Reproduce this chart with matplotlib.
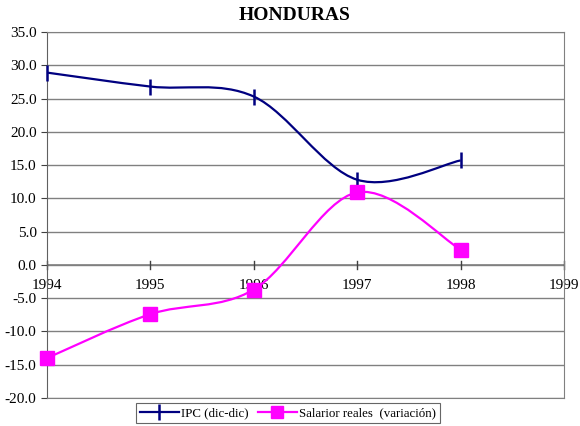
import matplotlib
matplotlib.use("Agg")
import matplotlib.pyplot as plt
from matplotlib.path import Path
from matplotlib.patches import PathPatch
from matplotlib.lines import Line2D
import numpy as np

years = [1994, 1995, 1996, 1997, 1998]
ipc = [28.9, 26.8, 25.3, 12.8, 15.7]
salarios = [-14.0, -7.4, -3.7, 10.9, 2.3]
xticks = [1994, 1995, 1996, 1997, 1998, 1999]
yticks = [-20, -15, -10, -5, 0, 5, 10, 15, 20, 25, 30, 35]

plt.rcParams['font.family'] = ['Liberation Serif', 'DejaVu Serif']

fig = plt.figure(figsize=(5.8, 4.26), dpi=100)
ax = fig.add_axes([0.081, 0.0657, 0.8914, 0.8592])


def smooth_path(xs, ys):
    pts = np.column_stack([xs, ys]).astype(float)
    n = len(pts)
    verts = [pts[0]]
    codes = [Path.MOVETO]
    for i in range(n - 1):
        p0 = pts[i - 1] if i > 0 else pts[i]
        p1 = pts[i]
        p2 = pts[i + 1]
        p3 = pts[i + 2] if i + 2 < n else pts[i + 1]
        c1 = p1 + (p2 - p0) / 6.0
        c2 = p2 - (p3 - p1) / 6.0
        verts += [c1, c2, p2]
        codes += [Path.CURVE4] * 3
    return Path(verts, codes)


navy = '#000080'
mag = '#FF00FF'

for ys, col in [(ipc, navy), (salarios, mag)]:
    patch = PathPatch(smooth_path(years, ys), facecolor='none', edgecolor=col,
                      lw=1.6, zorder=3)
    ax.add_patch(patch)

ax.plot(years, ipc, linestyle='none', marker='|', markersize=11,
        markeredgewidth=1.8, color=navy, zorder=4, clip_on=False)
ax.plot(years, salarios, linestyle='none', marker='s', markersize=10,
        color=mag, zorder=4, clip_on=False)

ax.set_xlim(1994, 1999)
ax.set_ylim(-20, 35)
ax.set_yticks(yticks)
ax.set_yticklabels([f"{v:.1f}" for v in yticks], fontsize=11)
ax.yaxis.grid(True, color='#808080', lw=1.0)
ax.set_axisbelow(True)

ax.spines['bottom'].set_color('#808080')
ax.spines['top'].set_color('#808080')
ax.spines['right'].set_color('#808080')
ax.spines['left'].set_color('#606060')
ax.axhline(0, color='#808080', lw=1.2, zorder=2)
ax.set_xticks([])
for x in xticks:
    ax.plot([x, x], [-0.6, 0.6], color='#404040', lw=1.0, zorder=2, clip_on=False)
    ax.text(x, -3.1, str(x), ha='center', va='center', fontsize=11, zorder=1)

ax.tick_params(axis='y', length=4, color='#404040')

fig.text(0.508, 0.963, 'HONDURAS', ha='center', va='center', fontsize=14,
         fontweight='bold')

handles = [
    Line2D([], [], color=navy, lw=1.6, marker='|', markersize=11, markeredgewidth=1.8),
    Line2D([], [], color=mag, lw=1.6, marker='s', markersize=8),
]
leg = fig.legend(handles, ['IPC (dic-dic)', 'Salarior reales  (variación)'],
                 loc='center', bbox_to_anchor=(0.497, 0.03), ncol=2, fontsize=9.3,
                 frameon=True, fancybox=False, handlelength=3.0, handletextpad=0.2,
                 columnspacing=0.7, borderpad=0.3, borderaxespad=0)
leg.get_frame().set_edgecolor('#404040')
leg.get_frame().set_linewidth(0.8)

fig.savefig('out.png', dpi=100)
